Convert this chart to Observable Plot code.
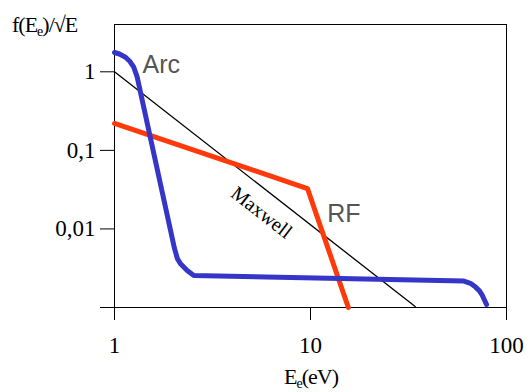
<!DOCTYPE html>
<html><head><meta charset="utf-8">
<script src="https://cdn.jsdelivr.net/npm/d3@7"></script>
<script src="https://cdn.jsdelivr.net/npm/@observablehq/plot@0.6"></script>
<style>body{margin:0;background:#fff}</style>
</head><body><div id="chart"></div>
<script>
// Data
const arcE = [1.0, 1.060, 1.138, 1.200, 1.254, 1.306, 2.023, 2.096, 2.171, 2.349, 2.539, 60.6, 65.5, 69.5, 72.8, 75.2, 79.1];
const arcF = [1.76, 1.685, 1.534, 1.352, 1.144, 0.854, 0.00565, 0.00415, 0.00361, 0.00296, 0.00256, 0.00217, 0.00203, 0.00182, 0.00163, 0.00143, 0.00109];
const rfE = [1, 9.65, 15.6];
const rfF = [0.22, 0.0327, 0.001];
const maxwellE = [1, 34.2];
const maxwellF = [1, 0.00103];

const xTickValues = [1, 10, 100];
const xTickLabels = ["1", "10", "100"];
const yTickValues = [0.001, 0.01, 0.1, 1];
const yTickLabels = ["", "0,01", "0,1", "1"];

const curveLabels = ["Arc", "RF"];
const curveLabelE = [1.39, 12.17];
const curveLabelF = [1.23, 0.0154];
const maxwellLabel = "Maxwell";
const maxwellLabelE = [5.62];
const maxwellLabelF = [0.0162];

const yTitleParts = ["f(E", "e", ")/√E"];
const xTitleParts = ["E", "e", "(eV)"];

const arc = arcE.map((e, i) => ({E: e, f: arcF[i]}));
const rf = rfE.map((e, i) => ({E: e, f: rfF[i]}));
const mx = maxwellE.map((e, i) => ({E: e, f: maxwellF[i]}));
const lbls = curveLabels.map((t, i) => ({t, E: curveLabelE[i], f: curveLabelF[i]}));
const mxl = [{t: maxwellLabel, E: maxwellLabelE[0], f: maxwellLabelF[0]}];

const xFmt = new Map(xTickValues.map((v, i) => [v, xTickLabels[i]]));
const yFmt = new Map(yTickValues.map((v, i) => [v, yTickLabels[i]]));

const serif = "Liberation Serif, Times New Roman, serif";
const sans = "Liberation Sans, Arial, sans-serif";

const plot = Plot.plot({
  width: 531, height: 392,
  marginLeft: 114, marginRight: 25, marginTop: 24, marginBottom: 85,
  style: {fontFamily: serif, fontSize: "23px", color: "#000", background: "#fff"},
  x: {type: "log", domain: [1, 100], axis: null},
  y: {type: "log", domain: [0.001, 4], axis: null},
  marks: [
    Plot.frame({stroke: "#000", strokeWidth: 1}),
    Plot.axisX(xTickValues, {tickSize: 13, tickPadding: 16, tickFormat: d => xFmt.get(d), label: null, fontSize: 23, fontFamily: serif}),
    Plot.axisY(yTickValues, {tickSize: 14, tickPadding: 5, tickFormat: d => yFmt.get(d), label: null, fontSize: 23, fontFamily: serif}),
    Plot.line(mx, {x: "E", y: "f", stroke: "#000", strokeWidth: 1.3}),
    Plot.line(rf, {x: "E", y: "f", stroke: "#ff3a0a", strokeWidth: 5}),
    Plot.line(arc, {x: "E", y: "f", stroke: "#3535c8", strokeWidth: 5, strokeLinejoin: "round"}),
    Plot.text(lbls, {x: "E", y: "f", text: "t", textAnchor: "start", fontFamily: sans, fontSize: 25, fill: "#555"}),
    Plot.text(mxl, {x: "E", y: "f", text: "t", rotate: 38, fontFamily: serif, fontSize: 20, fill: "#000"})
  ]
});
document.getElementById("chart").appendChild(plot);

const svg = d3.select(plot);
const yt = svg.append("text").attr("x", 12).attr("y", 32).attr("text-anchor", "start").attr("font-family", serif).attr("font-size", 22).attr("letter-spacing", "-1").attr("fill", "#000");
yt.append("tspan").text(yTitleParts[0]);
yt.append("tspan").attr("font-size", 14).attr("dy", 4).text(yTitleParts[1]);
yt.append("tspan").attr("dy", -4).text(yTitleParts[2]);

const xt = svg.append("text").attr("x", 311).attr("y", 384).attr("text-anchor", "middle").attr("font-family", serif).attr("font-size", 22).attr("letter-spacing", "-1").attr("fill", "#000");
xt.append("tspan").text(xTitleParts[0]);
xt.append("tspan").attr("font-size", 14).attr("dy", 4).text(xTitleParts[1]);
xt.append("tspan").attr("dy", -4).text(xTitleParts[2]);
</script>
</body></html>
